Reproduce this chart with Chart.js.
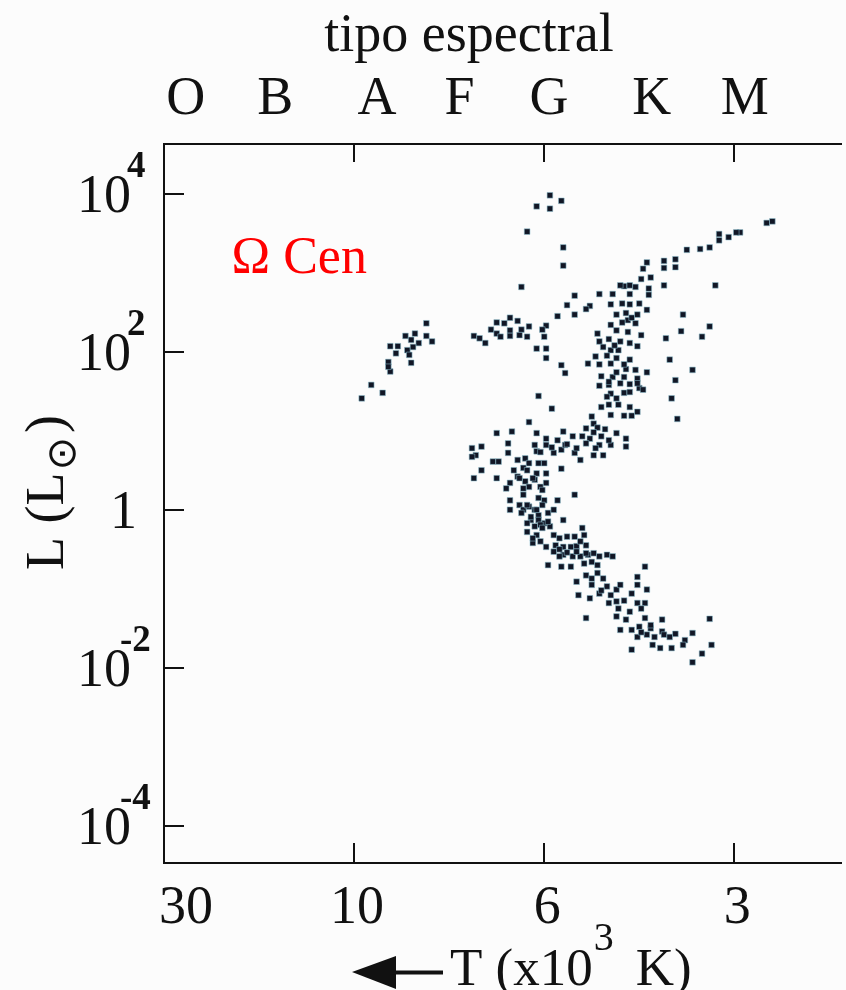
<!DOCTYPE html>
<html lang="es">
<head>
<meta charset="utf-8">
<title>Diagrama HR - Omega Cen</title>
<script src="https://cdn.jsdelivr.net/npm/chart.js@4.4.1/dist/chart.umd.min.js"></script>
<style>
  html, body { margin: 0; padding: 0; background: #fcfcfc; }
  canvas { display: block; }
</style>
</head>
<body>
<canvas id="grafico" width="846" height="990"></canvas>
<script>
// eje de temperatura en pasos: 0 = 30, 1 = 10, 2 = 6, 3 = 3 (x10^3 K)
const pasosTemp = [0, 1, 2, 3];
const etiquetasTemp = ['30', '10', '6', '3'];
// eje de luminosidad en log10 L
const exponentesL = [-4, -2, 0, 2, 4];
// tipos espectrales sobre el eje de temperatura
const tiposEspectrales = ['O', 'B', 'A', 'F', 'G', 'K', 'M'];
const posicionTipos = [0.115, 0.585, 1.12, 1.555, 2.025, 2.565, 3.055];

// estrellas: [paso de temperatura, log10 L]
const franjaVertical = [
  [2.03, 3.98], [2.09, 3.91], [1.96, 3.84], [2.03, 3.81], [1.91, 3.52],
  [2.10, 3.32], [2.10, 3.09], [1.88, 2.82]
];

const ramaHorizontal = [
  [1.82, 2.43], [1.86, 2.39], [1.75, 2.37], [1.79, 2.36], [2.01, 2.33],
  [1.72, 2.28], [1.75, 2.23], [1.82, 2.27], [1.88, 2.28], [1.92, 2.32],
  [1.99, 2.28], [1.77, 2.19], [1.82, 2.20], [1.87, 2.21], [1.91, 2.19],
  [1.63, 2.20], [1.66, 2.17], [1.69, 2.11], [2.00, 2.19], [1.96, 2.04],
  [2.01, 2.04], [2.01, 1.92], [2.09, 1.83], [2.11, 1.73], [1.97, 1.44],
  [2.04, 1.28]
];

const ramaHorizontalAzul = [
  [1.38, 2.36], [1.32, 2.23], [1.38, 2.20], [1.41, 2.13], [1.27, 2.20],
  [1.30, 2.15], [1.34, 2.11], [1.19, 2.07], [1.23, 2.07], [1.28, 2.02],
  [1.31, 2.06], [1.22, 1.98], [1.29, 1.96], [1.30, 1.86], [1.18, 1.87],
  [1.19, 1.75], [1.18, 1.81], [1.09, 1.58], [1.15, 1.48], [1.04, 1.41]
];

const gigantesRojas = [
  [2.16, 2.71], [2.12, 2.59], [2.24, 2.58], [2.16, 2.47], [2.07, 2.45],
  [2.23, 1.85], [2.25, 1.18],
  [3.17, 3.63], [3.20, 3.65], [3.03, 3.51], [3.01, 3.51], [2.97, 3.45],
  [2.92, 3.49], [2.92, 3.41], [2.87, 3.32], [2.82, 3.30], [2.75, 3.29],
  [2.69, 3.17], [2.69, 3.07], [2.63, 3.15], [2.63, 3.06], [2.54, 3.13],
  [2.52, 3.05], [2.90, 2.84], [2.87, 2.32],
  [2.56, 2.94], [2.51, 2.92], [2.63, 2.84], [2.42, 2.83], [2.45, 2.84],
  [2.48, 2.82], [2.55, 2.80], [2.29, 2.73], [2.36, 2.73], [2.45, 2.73],
  [2.55, 2.72], [2.22, 2.54], [2.35, 2.60], [2.41, 2.61], [2.45, 2.60],
  [2.50, 2.61], [2.54, 2.53], [2.73, 2.47], [2.38, 2.47], [2.43, 2.49],
  [2.49, 2.47], [2.44, 2.40], [2.48, 2.36], [2.41, 2.37], [2.35, 2.34],
  [2.72, 2.26], [2.38, 2.27], [2.44, 2.25], [2.51, 2.21], [2.64, 2.17],
  [2.83, 2.19], [2.28, 2.23], [2.34, 2.16], [2.29, 2.13], [2.40, 2.13],
  [2.45, 2.11], [2.49, 2.07], [2.35, 2.02], [2.39, 2.02], [2.33, 1.95],
  [2.38, 1.92], [2.45, 1.90], [2.66, 1.90], [2.29, 1.84], [2.35, 1.85],
  [2.43, 1.78], [2.48, 1.77], [2.54, 1.74], [2.78, 1.77], [2.30, 1.69],
  [2.36, 1.68], [2.42, 1.68], [2.49, 1.66], [2.69, 1.64], [2.29, 1.57],
  [2.34, 1.58], [2.40, 1.60], [2.45, 1.59], [2.50, 1.54], [2.52, 1.52],
  [2.35, 1.47], [2.42, 1.48], [2.45, 1.49], [2.67, 1.41], [2.38, 1.41],
  [2.34, 1.33], [2.39, 1.33], [2.45, 1.30], [2.30, 1.30], [2.35, 1.20],
  [2.42, 1.19], [2.46, 1.19], [2.49, 1.24], [2.70, 1.15], [2.26, 1.09],
  [2.22, 1.03], [2.28, 1.04], [2.32, 1.02], [2.38, 0.97], [2.43, 0.90],
  [2.24, 0.90], [2.30, 0.93], [2.20, 0.93], [2.22, 0.84], [2.29, 0.82],
  [2.35, 0.82], [2.43, 0.80], [2.49, 1.60], [2.33, 1.43],
  [2.40, 2.84], [2.46, 2.43], [2.31, 2.06], [2.37, 2.08], [2.27, 1.94],
  [2.42, 1.84], [2.38, 1.74], [2.34, 1.62], [2.26, 0.98], [2.34, 0.88],
  [2.27, 0.78]
];

const puntoDeGiro = [
  [1.92, 1.11], [1.75, 0.97], [1.83, 0.99], [1.96, 0.97], [2.01, 0.90],
  [2.07, 0.88], [2.10, 0.99], [2.15, 0.93], [1.95, 0.82], [1.96, 0.74],
  [2.01, 0.82], [2.05, 0.72], [2.09, 0.76], [2.11, 0.82], [2.16, 0.72],
  [2.19, 0.63], [2.26, 0.69], [2.31, 0.69], [1.62, 0.78], [1.67, 0.80],
  [1.64, 0.69], [1.62, 0.67], [1.81, 0.84], [1.81, 0.72], [1.73, 0.61],
  [1.76, 0.61], [1.86, 0.63], [1.90, 0.65], [1.92, 0.59], [1.97, 0.59],
  [2.00, 0.59], [1.89, 0.53], [1.91, 0.50], [1.96, 0.46], [2.01, 0.46],
  [1.67, 0.50], [1.63, 0.40], [1.75, 0.40], [1.86, 0.42], [1.90, 0.36],
  [1.92, 0.29], [1.89, 0.27], [1.98, 0.29], [2.01, 0.34], [1.82, 0.34],
  [1.80, 0.27], [1.89, 0.19], [1.99, 0.25], [2.00, 0.12], [2.07, 0.12],
  [2.16, 0.19], [1.82, 0.12], [1.87, 0.06], [1.89, 0.00], [1.95, 0.00],
  [1.97, -0.07], [2.02, -0.04], [2.05, 0.00], [1.82, 0.00], [1.93, -0.13],
  [1.97, -0.13], [2.00, -0.17], [1.95, -0.21], [2.03, -0.21], [2.10, -0.13],
  [2.20, -0.23], [1.91, -0.28], [1.96, -0.32], [2.05, -0.32], [2.08, -0.36],
  [2.12, -0.34], [2.16, -0.34], [2.21, -0.32], [1.98, -0.40], [2.01, -0.47],
  [2.06, -0.45], [2.10, -0.47], [2.14, -0.47], [2.17, -0.46], [2.22, -0.45],
  [2.05, -0.53], [2.10, -0.57], [2.15, -0.59], [2.19, -0.59], [2.23, -0.57],
  [2.26, -0.55], [2.33, -0.57], [2.02, -0.70], [2.09, -0.72], [2.14, -0.72],
  [2.21, -0.68], [2.25, -0.66], [2.09, 0.52], [1.95, 0.38], [1.94, -0.42],
  [2.19, -0.40], [2.08, -0.59], [2.28, -0.70], [1.97, 0.15], [1.92, 0.04],
  [1.99, 0.06], [1.88, -0.04], [1.93, -0.09], [1.91, -0.17], [1.98, -0.19],
  [2.02, -0.15],
  [1.98, 0.73], [2.04, 0.79], [2.12, 0.83], [2.17, 0.78], [1.84, 0.50],
  [1.87, 0.40], [1.94, 0.40], [1.91, 0.06], [1.96, 0.00], [1.99, -0.23],
  [1.94, -0.36], [2.08, -0.50], [2.12, -0.54], [2.17, -0.53], [2.22, -0.55],
  [2.29, -0.59], [2.36, -0.59]
];

const secuenciaPrincipal = [
  [2.53, -0.72], [2.17, -0.91], [2.22, -0.83], [2.25, -0.95], [2.28, -0.80],
  [2.31, -0.87], [2.24, -1.12], [2.18, -1.08], [2.29, -1.06], [2.33, -0.97],
  [2.38, -1.01], [2.40, -0.95], [2.49, -0.85], [2.49, -0.95], [2.54, -1.01],
  [2.34, -1.18], [2.38, -1.16], [2.39, -1.25], [2.45, -1.29], [2.49, -1.18],
  [2.53, -1.18], [2.22, -1.37], [2.38, -1.35], [2.43, -1.39], [2.53, -1.37],
  [2.62, -1.39], [2.40, -1.52], [2.46, -1.52], [2.50, -1.48], [2.56, -1.50],
  [2.62, -1.54], [2.49, -1.61], [2.54, -1.58], [2.58, -1.61], [2.63, -1.58],
  [2.66, -1.61], [2.46, -1.77], [2.57, -1.71], [2.67, -1.75], [2.46, -1.06],
  [2.87, -1.38], [2.78, -1.56], [2.69, -1.57], [2.74, -1.65], [2.61, -1.75],
  [2.73, -1.71], [2.88, -1.71], [2.83, -1.82], [2.78, -1.93],
  [2.25, -0.87], [2.30, -1.02], [2.35, -1.08], [2.42, -1.15], [2.51, -1.25],
  [2.56, -1.46], [2.51, -1.55]
];

// posición del rótulo del cúmulo [paso de temperatura, log10 L]
const rotuloCumulo = [0.355, 3.0];

const fuente = "'Liberation Serif', 'Times New Roman', serif";
const negro = '#111111';

function aPuntos(lista) {
    return lista.map(function (p) { return { x: p[0], y: p[1] }; });
}

const grupos = [franjaVertical, ramaHorizontal, ramaHorizontalAzul, gigantesRojas, puntoDeGiro, secuenciaPrincipal];

function linea(ctx, x1, y1, x2, y2) {
    ctx.beginPath();
    ctx.moveTo(x1, y1);
    ctx.lineTo(x2, y2);
    ctx.stroke();
}

const dibujarTextos = {
    id: 'dibujarTextos',
    beforeDraw(chart) {
        const ctx = chart.ctx;
        ctx.save();
        ctx.fillStyle = '#fcfcfc';
        ctx.fillRect(0, 0, chart.width, chart.height);
        ctx.restore();
    },
    afterDraw(chart) {
        const ctx = chart.ctx;
        const area = chart.chartArea;
        const ejeX = chart.scales.x;
        const ejeY = chart.scales.y;
        ctx.save();

        // marcas hacia dentro
        ctx.strokeStyle = negro;
        ctx.lineWidth = 2;
        pasosTemp.forEach(function (v) {
            if (v === 0) return;
            const x = Math.round(ejeX.getPixelForValue(v));
            linea(ctx, x, area.bottom, x, area.bottom - 20);
            linea(ctx, x, area.top, x, area.top + 18);
        });
        exponentesL.forEach(function (e) {
            const y = Math.round(ejeY.getPixelForValue(e));
            linea(ctx, area.left, y, area.left + 20, y);
        });

        // etiquetas del eje de luminosidad (10 con exponente)
        ctx.fillStyle = negro;
        ctx.textBaseline = 'alphabetic';
        exponentesL.forEach(function (e) {
            const base = ejeY.getPixelForValue(e) + 18;
            ctx.font = '54px ' + fuente;
            ctx.textAlign = 'right';
            if (e === 0) {
                ctx.fillText('1', 137, base);
                return;
            }
            ctx.fillText('10', 131, base);
            ctx.font = 'bold 37px ' + fuente;
            ctx.textAlign = 'left';
            ctx.fillText(String(e), e < 0 ? 120 : 127, base - 35);
        });

        // etiquetas del eje de temperatura
        ctx.font = '54px ' + fuente;
        pasosTemp.forEach(function (v, i) {
            const x = ejeX.getPixelForValue(v);
            if (i === 0) {
                ctx.textAlign = 'left';
                ctx.fillText(etiquetasTemp[i], x - 5, area.bottom + 60);
            } else {
                ctx.textAlign = 'center';
                ctx.fillText(etiquetasTemp[i], x + 3, area.bottom + 60);
            }
        });

        // titulo superior
        ctx.textAlign = 'center';
        ctx.font = '54px ' + fuente;
        ctx.fillText('tipo espectral', 469, 51);

        // titulo inferior con flecha
        ctx.beginPath();
        ctx.moveTo(352, 972);
        ctx.lineTo(396, 956);
        ctx.lineTo(396, 989);
        ctx.closePath();
        ctx.fill();
        ctx.lineWidth = 4;
        linea(ctx, 390, 972.5, 443, 972.5);
        ctx.textAlign = 'left';
        ctx.font = '53px ' + fuente;
        const parte1 = 'T (x10';
        ctx.fillText(parte1, 450, 985);
        let xs = 450 + ctx.measureText(parte1).width + 1;
        ctx.font = '40px ' + fuente;
        ctx.fillText('3', xs, 950);
        xs += ctx.measureText('3').width + 22;
        ctx.font = '53px ' + fuente;
        ctx.fillText('K)', xs, 985);

        // titulo del eje vertical: L (L☉)
        ctx.save();
        ctx.translate(63, 570);
        ctx.rotate(-Math.PI / 2);
        ctx.font = '54px ' + fuente;
        ctx.fillText('L (L', 0, 0);
        let xr = ctx.measureText('L (L').width + 2;
        ctx.font = "40px 'DejaVu Sans', sans-serif";
        ctx.textBaseline = 'middle';
        ctx.fillText('\u2299', xr, 2);
        xr += ctx.measureText('\u2299').width + 4;
        ctx.textBaseline = 'alphabetic';
        ctx.font = '54px ' + fuente;
        ctx.fillText(')', xr, 0);
        ctx.restore();

        // rotulo del cumulo
        ctx.fillStyle = '#ff0000';
        ctx.font = '52px ' + fuente;
        ctx.textAlign = 'left';
        ctx.fillText('\u03A9 Cen', ejeX.getPixelForValue(rotuloCumulo[0]), ejeY.getPixelForValue(rotuloCumulo[1]));

        ctx.restore();
    }
};

new Chart(document.getElementById('grafico'), {
    type: 'scatter',
    data: {
        datasets: grupos.map(function (g) {
            return {
                data: aPuntos(g),
                pointStyle: 'rect',
                pointRadius: 4,
                pointBackgroundColor: '#111625',
                pointBorderColor: 'rgba(140, 190, 205, 0.55)',
                pointBorderWidth: 1,
                showLine: false
            };
        })
    },
    options: {
        responsive: false,
        devicePixelRatio: 1,
        animation: false,
        events: [],
        layout: { padding: 0 },
        plugins: {
            legend: { display: false },
            tooltip: { enabled: false },
            title: { display: false }
        },
        scales: {
            x: {
                type: 'linear',
                position: 'bottom',
                min: 0,
                max: 3.561,
                afterBuildTicks: function (eje) { eje.ticks = pasosTemp.map(function (v) { return { value: v }; }); },
                ticks: { display: false },
                grid: { display: false, drawTicks: false },
                border: { display: true, color: negro, width: 2 },
                afterFit: function (eje) { eje.height = 127; }
            },
            xs: {
                type: 'linear',
                axis: 'x',
                position: 'top',
                min: 0,
                max: 3.561,
                afterBuildTicks: function (eje) { eje.ticks = posicionTipos.map(function (v) { return { value: v }; }); },
                ticks: {
                    autoSkip: false,
                    maxRotation: 0,
                    padding: 12,
                    color: negro,
                    font: { family: fuente, size: 54 },
                    callback: function (v, i) { return tiposEspectrales[i]; }
                },
                grid: { display: false, drawTicks: false },
                border: { display: true, color: negro, width: 2 },
                afterFit: function (eje) { eje.height = 144; }
            },
            y: {
                type: 'linear',
                position: 'left',
                min: -4.47,
                max: 4.629,
                afterBuildTicks: function (eje) { eje.ticks = exponentesL.map(function (v) { return { value: v }; }); },
                ticks: { display: false },
                grid: { display: false, drawTicks: false },
                border: { display: true, color: negro, width: 2 },
                afterFit: function (eje) { eje.width = 164; }
            }
        }
    },
    plugins: [dibujarTextos]
});
</script>
</body>
</html>
